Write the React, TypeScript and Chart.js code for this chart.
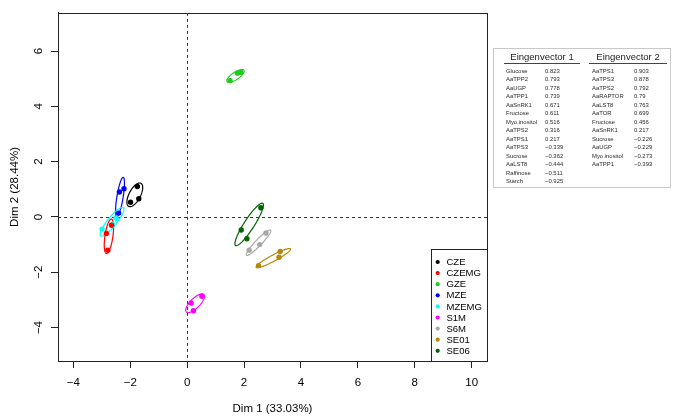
import React, { useEffect, useRef } from "react";
import { Chart, registerables } from "chart.js";

Chart.register(...registerables);

const GROUPS = ["CZE", "CZEMG", "GZE", "MZE", "MZEMG", "S1M", "S6M", "SE01", "SE06"];
const COLORS = ["#000000", "#FF0000", "#1FCB1F", "#0000FF", "#00FFFF", "#FF00FF", "#A9A9A9", "#B8860B", "#006400"];

const X_VALUES = [
  [-1.75, -1.70, -1.99],
  [-2.84, -2.79, -2.66],
  [1.51, 1.77, 1.89],
  [-2.22, -2.38, -2.41],
  [-2.62, -2.99, -2.50],
  [0.52, 0.14, 0.22],
  [2.77, 2.55, 2.18],
  [3.27, 3.23, 2.51],
  [2.59, 1.90, 2.10],
];
const Y_VALUES = [
  [1.10, 0.66, 0.53],
  [-0.60, -1.20, -0.30],
  [4.93, 5.20, 5.23],
  [1.02, 0.90, 0.14],
  [-0.27, -0.44, -0.05],
  [-2.87, -3.11, -3.39],
  [-0.58, -1.00, -1.20],
  [-1.25, -1.46, -1.76],
  [0.33, -0.47, -0.79],
];

// confidence ellipses: centre x, centre y, semi-major, semi-minor, angle (deg)
const ELL_CX = [-1.84, -2.75, 1.70, -2.36, -2.64, 0.28, 2.51, 3.03, 2.18];
const ELL_CY = [0.80, -0.70, 5.10, 0.72, -0.17, -3.12, -0.93, -1.49, -0.27];
const ELL_A = [0.47, 0.63, 0.36, 0.72, 0.65, 0.44, 0.62, 0.69, 0.90];
const ELL_B = [0.2, 0.14, 0.13, 0.11, 0.16, 0.17, 0.11, 0.11, 0.18];
const ELL_ANG = [63, 82, 35, 81, 52, 46, 47, 29, 58];

const X_TICKS = [-4, -2, 0, 2, 4, 6, 8, 10];
const Y_TICKS = [-4, -2, 0, 2, 4, 6];
const X_TITLE = "Dim 1 (33.03%)";
const Y_TITLE = "Dim 2 (28.44%)";

const EV1_NAMES = ["Glucose", "AaTPP2", "AaUGP", "AaTPP1", "AaSnRK1", "Fructose", "Myo.inositol", "AaTPS2", "AaTPS1", "AaTPS3", "Sucrose", "AaLST8", "Raffinose", "Starch"];
const EV1_VALUES = ["0.823", "0.793", "0.778", "0.739", "0.671", "0.611", "0.516", "0.316", "0.217", "\u22120.339", "\u22120.362", "\u22120.444", "\u22120.511", "\u22120.925"];
const EV2_NAMES = ["AaTPS1", "AaTPS3", "AaTPS2", "AaRAPTOR", "AaLST8", "AaTOR", "Fructose", "AaSnRK1", "Sucrose", "AaUGP", "Myo.inositol", "AaTPP1"];
const EV2_VALUES = ["0.903", "0.878", "0.792", "0.79", "0.763", "0.699", "0.456", "0.217", "\u22120.226", "\u22120.229", "\u22120.273", "\u22120.393"];

const FONT = "'Liberation Sans', Arial, Helvetica, sans-serif";

const fmt = (v: number) => (v < 0 ? "\u2212" + Math.abs(v) : String(v));

const decorPlugin = {
  id: "decor",
  beforeDatasetsDraw(chart: any) {
    const { ctx, chartArea: ca, scales } = chart;
    const xs = scales.x;
    const ys = scales.y;
    ctx.save();
    ctx.beginPath();
    ctx.rect(ca.left, ca.top, ca.right - ca.left, ca.bottom - ca.top);
    ctx.clip();
    // zero lines
    ctx.strokeStyle = "#333";
    ctx.lineWidth = 1;
    ctx.setLineDash([3, 3]);
    const x0 = Math.round(xs.getPixelForValue(0)) + 0.5;
    const y0 = Math.round(ys.getPixelForValue(0)) + 0.5;
    ctx.beginPath();
    ctx.moveTo(x0, ca.top);
    ctx.lineTo(x0, ca.bottom);
    ctx.moveTo(ca.left, y0);
    ctx.lineTo(ca.right, y0);
    ctx.stroke();
    ctx.setLineDash([]);
    // ellipses
    const kx = xs.getPixelForValue(1) - xs.getPixelForValue(0);
    const ky = ys.getPixelForValue(1) - ys.getPixelForValue(0);
    for (let i = 0; i < GROUPS.length; i++) {
      const cx = xs.getPixelForValue(ELL_CX[i]);
      const cy = ys.getPixelForValue(ELL_CY[i]);
      const th = (ELL_ANG[i] * Math.PI) / 180;
      const ux = ELL_A[i] * Math.cos(th) * kx;
      const uy = ELL_A[i] * Math.sin(th) * ky;
      const vx = -ELL_B[i] * Math.sin(th) * kx;
      const vy = ELL_B[i] * Math.cos(th) * ky;
      ctx.beginPath();
      for (let k = 0; k <= 100; k++) {
        const t = (k / 100) * Math.PI * 2;
        const px = cx + ux * Math.cos(t) + vx * Math.sin(t);
        const py = cy + uy * Math.cos(t) + vy * Math.sin(t);
        if (k === 0) ctx.moveTo(px, py);
        else ctx.lineTo(px, py);
      }
      ctx.closePath();
      ctx.strokeStyle = COLORS[i];
      ctx.lineWidth = 1.2;
      ctx.stroke();
    }
    ctx.restore();
  },
  afterDraw(chart: any) {
    const { ctx, chartArea: ca } = chart;
    ctx.save();
    // plot box
    ctx.strokeStyle = "#222";
    ctx.lineWidth = 1;
    ctx.strokeRect(Math.round(ca.left) + 0.5, Math.round(ca.top) + 0.5, Math.round(ca.right - ca.left), Math.round(ca.bottom - ca.top));
    // legend
    const lx = 431, ly = 249;
    const lw = Math.round(ca.right) - lx, lh = Math.round(ca.bottom) - ly;
    ctx.fillStyle = "#fff";
    ctx.fillRect(lx, ly, lw, lh);
    ctx.strokeRect(lx + 0.5, ly + 0.5, lw, lh);
    ctx.font = `9.5px ${FONT}`;
    ctx.textBaseline = "middle";
    ctx.textAlign = "left";
    for (let i = 0; i < GROUPS.length; i++) {
      const yy = 262 + i * 11.1;
      ctx.fillStyle = COLORS[i];
      ctx.beginPath();
      ctx.arc(437.7, yy, 2.1, 0, Math.PI * 2);
      ctx.fill();
      ctx.fillStyle = "#000";
      ctx.fillText(GROUPS[i], 446.5, yy + 0.5);
    }
    // eigenvector table
    ctx.fillStyle = "#fff";
    ctx.fillRect(493, 48, 177, 139);
    ctx.strokeStyle = "#c8c8c8";
    ctx.strokeRect(493.5, 48.5, 177, 139);
    ctx.fillStyle = "#222";
    ctx.font = `9.5px ${FONT}`;
    ctx.textAlign = "center";
    ctx.fillText("Eingenvector 1", 542, 57);
    ctx.fillText("Eingenvector 2", 628, 57);
    ctx.strokeStyle = "#444";
    ctx.beginPath();
    ctx.moveTo(504, 63.5);
    ctx.lineTo(580, 63.5);
    ctx.moveTo(589, 63.5);
    ctx.lineTo(667, 63.5);
    ctx.stroke();
    ctx.textAlign = "left";
    ctx.font = `5.9px ${FONT}`;
    ctx.fillStyle = "#2a2a2a";
    for (let i = 0; i < EV1_NAMES.length; i++) {
      const yy = 71 + i * 8.5;
      ctx.fillText(EV1_NAMES[i], 506, yy);
      ctx.fillText(EV1_VALUES[i], 545, yy);
    }
    for (let i = 0; i < EV2_NAMES.length; i++) {
      const yy = 71 + i * 8.5;
      ctx.fillText(EV2_NAMES[i], 592, yy);
      ctx.fillText(EV2_VALUES[i], 634, yy);
    }
    ctx.restore();
  },
};

export default function App() {
  const ref = useRef<HTMLCanvasElement | null>(null);
  useEffect(() => {
    if (!ref.current) return;
    const datasets = GROUPS.map((g, i) => ({
      label: g,
      data: X_VALUES[i].map((x, j) => ({ x, y: Y_VALUES[i][j] })),
      backgroundColor: COLORS[i],
      borderColor: COLORS[i],
      pointRadius: 2.7,
      pointBorderWidth: 0,
      pointHoverRadius: 2.7,
    }));
    const chart = new Chart(ref.current, {
      type: "scatter",
      data: { datasets },
      plugins: [decorPlugin],
      options: {
        responsive: false,
        animation: false,
        devicePixelRatio: 1,
        events: [],
        layout: { padding: { left: 0, right: 186, top: 3, bottom: 0 } },
        plugins: { legend: { display: false }, tooltip: { enabled: false } },
        scales: {
          x: {
            type: "linear",
            min: -4.54,
            max: 10.54,
            afterBuildTicks: (s: any) => {
              s.ticks = X_TICKS.map((v) => ({ value: v }));
            },
            afterFit: (s: any) => {
              s.height = 59;
            },
            grid: { display: true, drawOnChartArea: false, drawTicks: true, tickLength: 7, color: "#222" },
            border: { display: true, color: "#222" },
            ticks: {
              autoSkip: false,
              maxRotation: 0,
              padding: 8,
              color: "#000",
              font: { family: FONT, size: 11.5 },
              callback: (v: any) => fmt(Number(v)),
            },
            title: {
              display: true,
              text: X_TITLE,
              color: "#000",
              font: { family: FONT, size: 11.5 },
              padding: { top: 0, bottom: 4 },
            },
          },
          y: {
            type: "linear",
            min: -5.21,
            max: 7.38,
            afterBuildTicks: (s: any) => {
              s.ticks = Y_TICKS.map((v) => ({ value: v }));
            },
            afterFit: (s: any) => {
              s.width = 58;
            },
            grid: { display: true, drawOnChartArea: false, drawTicks: true, tickLength: 7, color: "#222" },
            border: { display: true, color: "#222" },
            ticks: {
              autoSkip: false,
              minRotation: 90,
              maxRotation: 90,
              crossAlign: "center",
              padding: 6,
              color: "#000",
              font: { family: FONT, size: 11.5 },
              callback: (v: any) => fmt(Number(v)),
            },
            title: {
              display: true,
              text: Y_TITLE,
              color: "#000",
              font: { family: FONT, size: 11.5 },
              padding: { top: 8, bottom: 0 },
            },
          },
        },
      } as any,
    });
    return () => chart.destroy();
  }, []);
  return (
    <div style={{ position: "absolute", left: 0, top: 0, width: 673, height: 420, background: "#fff" }}>
      <canvas ref={ref} width={673} height={420} style={{ width: 673, height: 420, display: "block" }} />
    </div>
  );
}
